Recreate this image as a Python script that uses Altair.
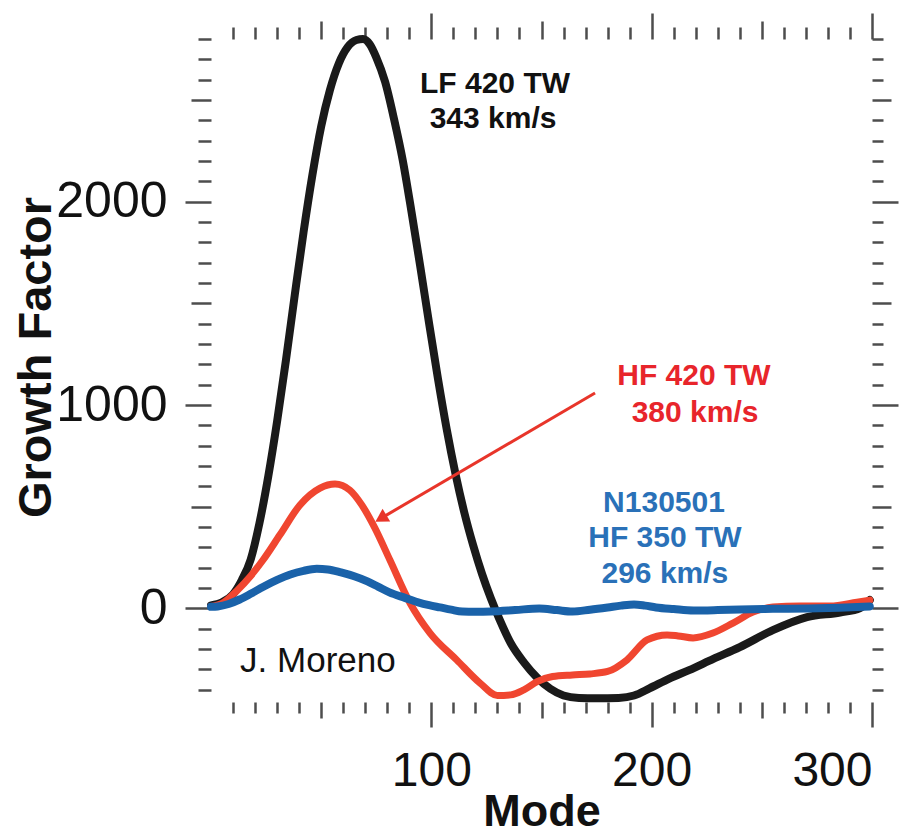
import altair as alt
import pandas as pd

# Growth factor versus mode number for three implosion designs
lf420_mode = [0, 5, 10, 14, 18, 22, 26, 30, 34, 38, 42, 46, 50, 54, 58, 62, 66, 69, 72, 75, 79, 83, 87,
              91, 95, 99, 103, 107, 111, 115, 119, 123, 127, 131, 136, 142, 148, 154, 160, 167, 175, 185,
              192, 199, 208, 217, 228, 240, 255, 270.5, 285.5, 294.6, 299]
lf420_growth = [15, 30, 70, 140, 240, 420, 650, 920, 1220, 1540, 1850, 2130, 2370, 2550, 2680, 2760, 2795,
                2800, 2775, 2710, 2590, 2410, 2205, 1950, 1680, 1400, 1130, 880, 660, 470, 310, 170, 50,
                -55, -170, -265, -340, -395, -428, -440, -442, -440, -428, -393, -345, -303, -248, -190,
                -107, -43, -20, 2, 41]

hf420_mode = [0, 5, 12, 18, 23.6, 31.3, 40.4, 49.5, 56.3, 63, 68.5, 74.4, 81.2, 90.3, 99.4, 111.6, 122.1,
              130, 136, 142, 148, 155, 164, 172, 180, 188.8, 197.9, 207, 212, 218.8, 227.8,
              236.9, 246, 255, 267.3, 281, 293.2, 299]
hf420_growth = [10, 25, 90, 160, 238, 362, 509, 592, 612, 582, 508, 395, 238, 27, -121, -254, -367, -428,
                -425, -400, -360, -335, -327, -322, -310, -253, -155, -130, -135, -145, -121, -72, -18, 7,
                12, 12, 31, 41]

hf350_mode = [0, 3, 8, 13, 18, 24, 30, 36, 42, 48, 53, 59, 65, 71, 76, 81, 88, 94, 99, 104, 109, 114, 120,
              127, 138, 149, 157, 164, 172, 180, 186, 192, 197, 202, 210, 219, 230, 240, 255, 271, 285, 299]
hf350_growth = [8, 10, 22, 44, 72, 108, 140, 167, 185, 195, 192, 177, 158, 133, 106, 79, 52, 30, 16, 5, -6,
                -15, -16, -15, -8, 0, -8, -15, -6, 5, 14, 20, 14, 5, -3, -10, -8, -5, -2, 0, 4, 10]

# Annotation text, anchored in data coordinates (mode, growth)
label_text = ["LF 420 TW", "343 km/s", "HF 420 TW", "380 km/s", "N130501", "HF 350 TW", "296 km/s"]
label_mode = [128.9, 128.0, 219.2, 219.7, 205.6, 206.0, 206.0]
label_growth = [2534, 2362, 1099, 917, 474, 302, 125]
label_color = ["#111111", "#111111", "#e8252b", "#e8252b", "#2a71b8", "#2a71b8", "#2a71b8"]

credit_text = ["J. Moreno"]
credit_mode = [13.2]
credit_growth = [-313]

# Arrow pointing from the HF 420 TW label to its curve
arrow_mode = [174.3]
arrow_growth = [1059]
arrow_mode2 = [77.1]
arrow_growth2 = [443]

FONT = "Liberation Sans"
RED_LINE = "#f04630"
BLUE_LINE = "#1a62a9"
BLACK_LINE = "#1a1a1a"
TICK = "#4d4d4d"

x_scale = alt.Scale(domain=[0, 300], nice=False, zero=False)
y_scale = alt.Scale(domain=[-460, 2800], nice=False, zero=False)

x_ticks = list(range(10, 301, 10))
y_ticks = list(range(-400, 2801, 100))


def tick_len(major_step, mid_step, major, mid, minor):
    return {
        "condition": [
            {"test": f"datum.value % {major_step} === 0", "value": major},
            {"test": f"datum.value % {mid_step} === 0", "value": mid},
        ],
        "value": minor,
    }


common_axis = dict(domain=False, grid=False, tickColor=TICK, tickWidth=2.5, labelOverlap=False,
                   labelFont=FONT, labelColor="#111111", format="d")

x_bottom = alt.Axis(orient="bottom", values=x_ticks, tickSize=tick_len(100, 50, 25, 16, 11),
                    labelExpr="datum.value % 100 === 0 ? datum.label : ''", labelFontSize=48,
                    labelPadding=20, title="Mode", titleFont=FONT, titleFontSize=45, titleFontWeight="bold",
                    titleColor="#111111", titleY=123, titleBaseline="alphabetic", **common_axis)
y_left = alt.Axis(orient="left", values=y_ticks, tickSize=tick_len(1000, 500, 26, 20, 13),
                  labelExpr="datum.value % 1000 === 0 ? datum.label : ''", labelFontSize=50,
                  labelPadding=18, labelBaseline="middle", title="Growth Factor", titleFont=FONT,
                  titleFontSize=47, titleFontWeight="bold", titleColor="#111111", titleAngle=-90,
                  titleX=-161, titleY=318, titleBaseline="alphabetic", titleAlign="center", **common_axis)
x_top = alt.Axis(orient="top", values=x_ticks, tickSize=tick_len(100, 50, 26, 18, 12), labels=False,
                 title=None, **common_axis)
y_right = alt.Axis(orient="right", values=y_ticks, tickSize=tick_len(1000, 500, 26, 19, 11), labels=False,
                   title=None, **common_axis)

lf_df = pd.DataFrame({"mode": lf420_mode, "growth": lf420_growth})
hf420_df = pd.DataFrame({"mode": hf420_mode, "growth": hf420_growth})
hf350_df = pd.DataFrame({"mode": hf350_mode, "growth": hf350_growth})
labels_df = pd.DataFrame({"text": label_text, "mode": label_mode, "growth": label_growth,
                          "color": label_color})
credit_df = pd.DataFrame({"text": credit_text, "mode": credit_mode, "growth": credit_growth})
arrow_df = pd.DataFrame({"mode": arrow_mode, "growth": arrow_growth, "mode2": arrow_mode2,
                         "growth2": arrow_growth2})

lf_line = alt.Chart(lf_df).mark_line(color=BLACK_LINE, strokeWidth=8, strokeCap="round",
                                     strokeJoin="round", interpolate="monotone").encode(
    x=alt.X("mode:Q", scale=x_scale, axis=x_bottom),
    y=alt.Y("growth:Q", scale=y_scale, axis=y_left),
)

hf420_line = alt.Chart(hf420_df).mark_line(color=RED_LINE, strokeWidth=7, strokeCap="round",
                                           strokeJoin="round", interpolate="monotone").encode(
    x=alt.X("mode:Q", scale=x_scale, axis=None),
    y=alt.Y("growth:Q", scale=y_scale, axis=None),
)

hf350_line = alt.Chart(hf350_df).mark_line(color=BLUE_LINE, strokeWidth=8, strokeCap="round",
                                           strokeJoin="round", interpolate="monotone").encode(
    x=alt.X("mode:Q", scale=x_scale, axis=None),
    y=alt.Y("growth:Q", scale=y_scale, axis=None),
)

labels = alt.Chart(labels_df).mark_text(font=FONT, fontSize=30, fontWeight="bold", align="center",
                                        baseline="alphabetic").encode(
    x=alt.X("mode:Q", scale=x_scale, axis=x_top),
    y=alt.Y("growth:Q", scale=y_scale, axis=y_right),
    text="text:N",
    color=alt.Color("color:N", scale=None),
)

credit = alt.Chart(credit_df).mark_text(font=FONT, fontSize=35, align="left", baseline="alphabetic",
                                        color="#111111").encode(
    x=alt.X("mode:Q", scale=x_scale, axis=None),
    y=alt.Y("growth:Q", scale=y_scale, axis=None),
    text="text:N",
)

arrow_shaft = alt.Chart(arrow_df).mark_rule(color="#e8352a", strokeWidth=3).encode(
    x=alt.X("mode:Q", scale=x_scale, axis=None),
    y=alt.Y("growth:Q", scale=y_scale, axis=None),
    x2="mode2:Q",
    y2="growth2:Q",
)

arrow_head = alt.Chart(arrow_df).mark_point(shape="triangle-up", filled=True, size=220, angle=239,
                                            color="#e8352a", opacity=1).encode(
    x=alt.X("mode2:Q", scale=x_scale, axis=None),
    y=alt.Y("growth2:Q", scale=y_scale, axis=None),
)

chart = alt.layer(
    lf_line, hf420_line, hf350_line, arrow_shaft, arrow_head, labels, credit
).resolve_axis(
    x="independent", y="independent"
).properties(
    width=661,
    height=663,
    autosize=alt.AutoSizeParams(type="none"),
    padding={"left": 211, "top": 39, "right": 51, "bottom": 134},
    background="white",
).configure_view(stroke=None)

chart.save("out.html", embed_options={"renderer": "svg", "actions": False})
